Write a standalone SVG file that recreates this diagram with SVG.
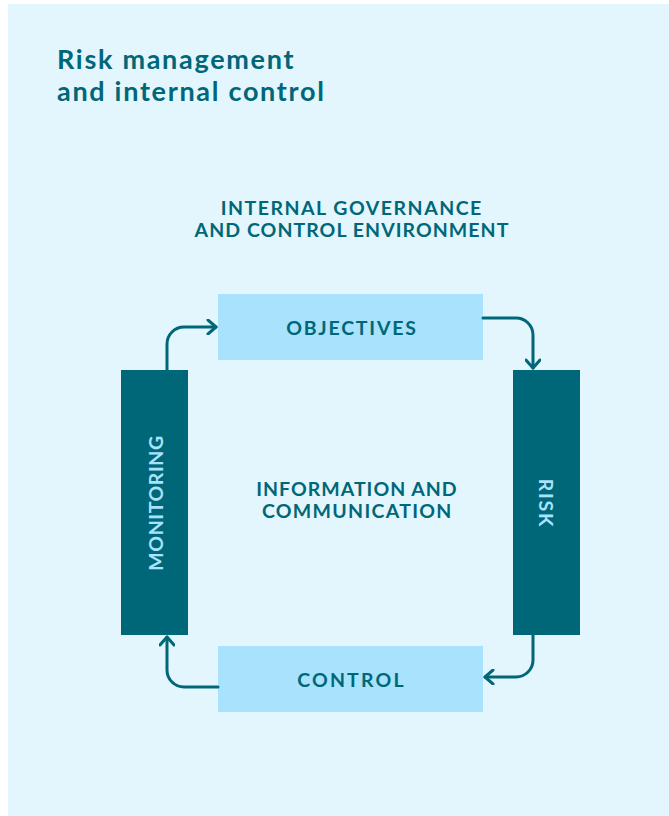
<svg xmlns="http://www.w3.org/2000/svg" width="669" height="816" viewBox="0 0 669 816">
<style>
.t{font-family:Lato,"Open Sans",sans-serif;font-weight:700;font-size:19.5px;fill:#006778;text-anchor:middle;letter-spacing:1.8px}
.h{font-family:Lato,"Open Sans",sans-serif;font-weight:700;font-size:27px;fill:#006778;letter-spacing:1.7px}
.lb{fill:#A8E2FD}
.db{fill:#006778}
.c{fill:none;stroke:#006778;stroke-width:3;stroke-linecap:round;stroke-linejoin:round}
</style>
<defs>
<marker id="ah" markerWidth="12" markerHeight="16" viewBox="0 0 12 16" refX="10" refY="8" orient="auto" markerUnits="userSpaceOnUse">
<path d="M2,1 L10,8 L2,15" fill="none" stroke="#006778" stroke-width="3" stroke-linecap="round" stroke-linejoin="round"/>
</marker>
</defs>
<rect x="0" y="0" width="669" height="816" fill="#ffffff"/>
<rect x="8" y="4" width="661" height="812" fill="#E3F6FE"/>
<g id="title">
<text class="h" x="57" y="69">Risk management</text>
<text class="h" x="57" y="101">and internal control</text>
</g>
<g id="environment">
<text class="t" x="351.8" y="215" style="letter-spacing:1.5px">INTERNAL GOVERNANCE</text>
<text class="t" x="352" y="237" style="letter-spacing:1.05px">AND CONTROL ENVIRONMENT</text>
</g>
<g id="information">
<text class="t" x="357" y="496" style="letter-spacing:1px">INFORMATION AND</text>
<text class="t" x="357.3" y="517.5" style="letter-spacing:1.3px">COMMUNICATION</text>
</g>
<g id="objectives">
<rect class="lb" x="218" y="294" width="265" height="66"/>
<text class="t" x="352" y="335">OBJECTIVES</text>
</g>
<g id="risk">
<rect class="db" x="513" y="370" width="67" height="265"/>
<text class="t" x="0" y="0" style="fill:#A8E2FD" transform="translate(538.5,503.5) rotate(90)">RISK</text>
</g>
<g id="control">
<rect class="lb" x="218" y="646" width="265" height="66"/>
<text class="t" x="351.5" y="687" style="letter-spacing:2.2px">CONTROL</text>
</g>
<g id="monitoring">
<rect class="db" x="121" y="370" width="67" height="265"/>
<text class="t" x="0" y="0" style="fill:#A8E2FD;letter-spacing:0.6px" transform="translate(162.5,503) rotate(-90)">MONITORING</text>
</g>
<g id="connectors">
<path class="c" d="M167,370 V344 A17,17 0 0 1 184,327 H216" marker-end="url(#ah)"/>
<path class="c" d="M483,318 H516 A17,17 0 0 1 533,335 V368" marker-end="url(#ah)"/>
<path class="c" d="M533,635 V660 A17,17 0 0 1 516,677 H485" marker-end="url(#ah)"/>
<path class="c" d="M218,687 H184 A17,17 0 0 1 167,670 V637" marker-end="url(#ah)"/>
</g>
</svg>
